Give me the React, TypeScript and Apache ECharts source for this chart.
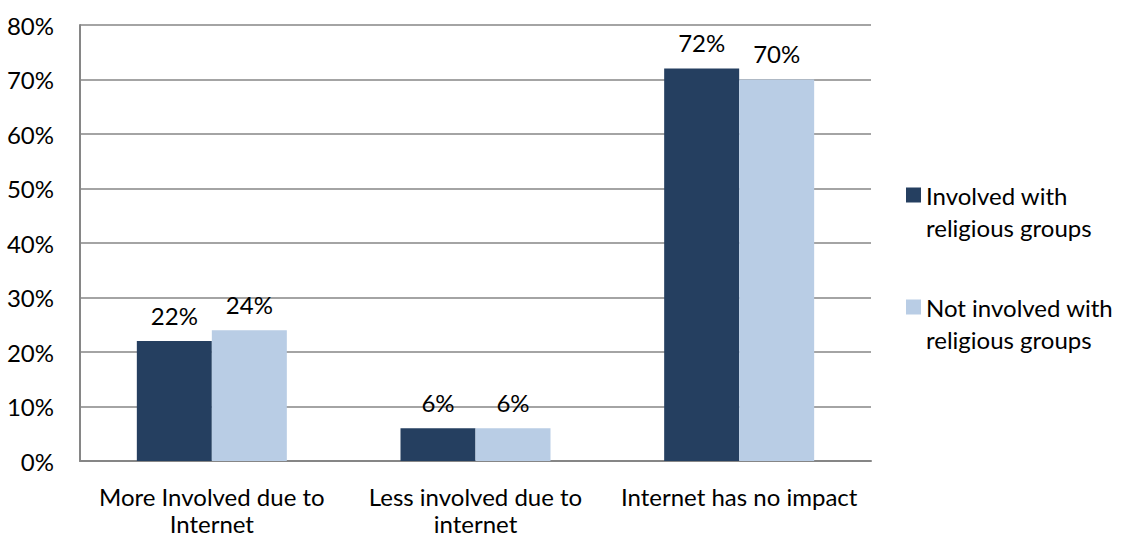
import React, { useEffect, useRef } from "react";
import * as echarts from "echarts";

const categories = ["More Involved due to\nInternet", "Less involved due to\ninternet", "Internet has no impact"];
const seriesNames = ["Involved with\nreligious groups", "Not involved with\nreligious groups"];
const involved = [22, 6, 72];
const notInvolved = [24, 6, 70];
const yTicks = { min: 0, max: 80, interval: 10 };

const FONT = "Lato";

export default function App() {
  const ref = useRef<HTMLDivElement>(null);
  useEffect(() => {
    if (!ref.current) return;
    const chart = echarts.init(ref.current, undefined, { renderer: "svg" });
    const label = {
      show: true,
      position: "top" as const,
      distance: 14,
      formatter: (p: any) => p.value + "%",
      color: "#000",
      fontFamily: FONT,
      fontSize: 24,
    };
    chart.setOption({
      animation: false,
      textStyle: { fontFamily: FONT },
      grid: {
        left: 80,
        right: 250,
        top: 25,
        bottom: 76,
        containLabel: false,
        outerBoundsMode: "none",
      },
      legend: {
        orient: "vertical",
        left: 906,
        top: 147,
        padding: 0,
        itemGap: 16,
        itemWidth: 15,
        itemHeight: 15,
        icon: "rect",
        formatter: (name: string) => "\n" + name,
        textStyle: {
          fontFamily: FONT,
          fontSize: 24,
          color: "#000",
          lineHeight: 32,
        },
        data: seriesNames,
      },
      xAxis: {
        type: "category",
        data: categories,
        axisLine: { show: true, lineStyle: { color: "#868686", width: 2 } },
        axisTick: { show: false },
        axisLabel: {
          color: "#000",
          fontFamily: FONT,
          fontSize: 24,
          lineHeight: 27,
          margin: 22,
          interval: 0,
        },
      },
      yAxis: {
        type: "value",
        min: yTicks.min,
        max: yTicks.max,
        interval: yTicks.interval,
        axisLine: { show: true, lineStyle: { color: "#868686", width: 2 } },
        axisTick: { show: false },
        splitLine: { show: true, lineStyle: { color: "#868686", width: 1.5 } },
        axisLabel: {
          color: "#000",
          fontFamily: FONT,
          fontSize: 24,
          margin: 26,
          formatter: (v: number) => v + "%",
        },
      },
      series: [
        {
          name: seriesNames[0],
          type: "bar",
          data: involved,
          barWidth: 75,
          barGap: "0%",
          itemStyle: { color: "#253F60" },
          label,
        },
        {
          name: seriesNames[1],
          type: "bar",
          data: notInvolved,
          barWidth: 75,
          barGap: "0%",
          itemStyle: { color: "#B9CDE5" },
          label,
        },
      ],
    });
    return () => chart.dispose();
  }, []);
  return (
    <div
      ref={ref}
      style={{ position: "absolute", left: 0, top: 0, width: 1121, height: 537 }}
    />
  );
}
